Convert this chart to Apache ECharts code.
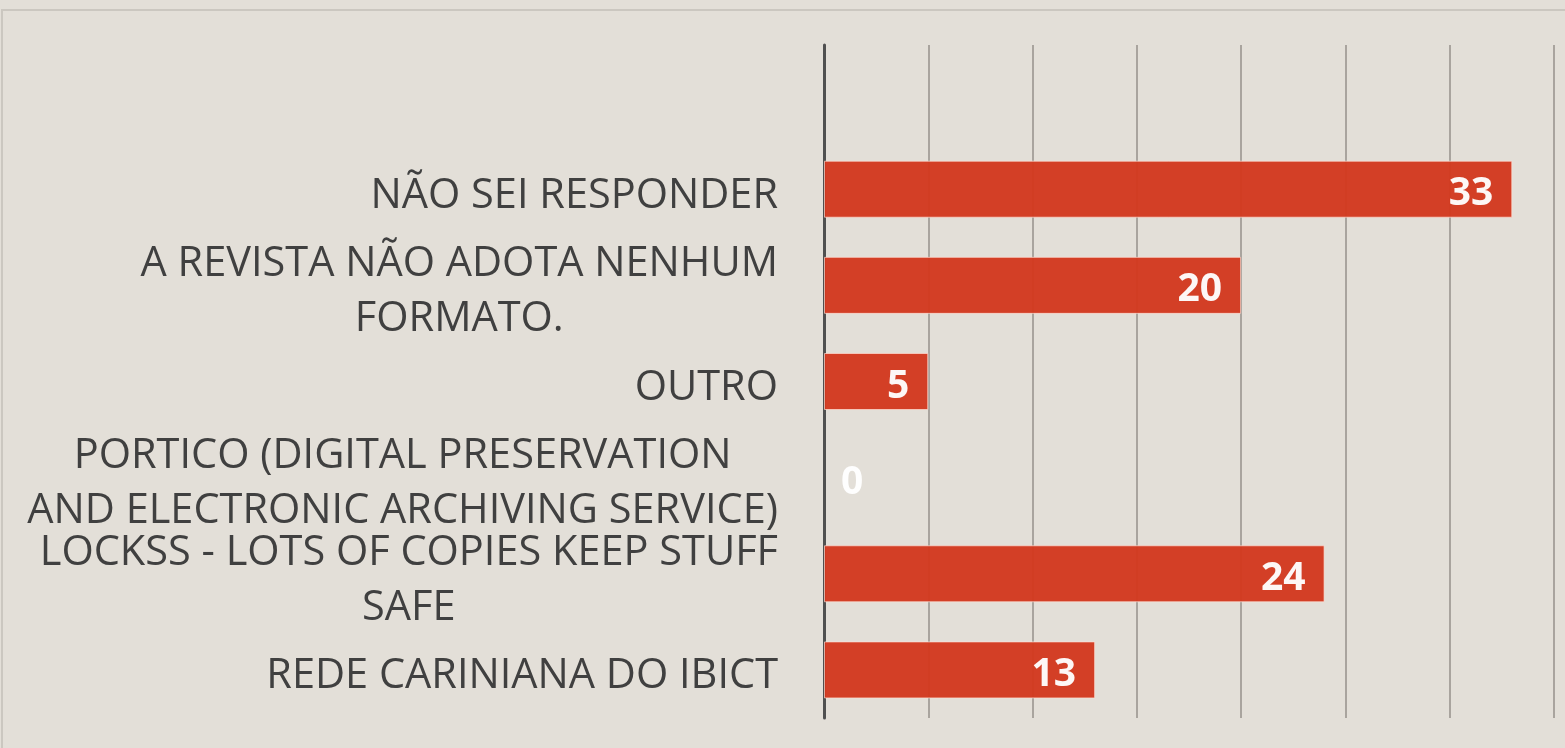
<!DOCTYPE html>
<html>
<head>
<meta charset="utf-8">
<script src="https://cdn.jsdelivr.net/npm/echarts@6/dist/echarts.min.js"></script>
<style>
  html, body { margin: 0; padding: 0; width: 1565px; height: 748px; background: #E3DFD8; overflow: hidden; }
  #frame { position: absolute; left: 1px; top: 9px; width: 1600px; height: 800px; border-top: 2px solid #CBC7C0; border-left: 2px solid #CBC7C0; }
  #chart { position: absolute; left: 0; top: 0; width: 1565px; height: 748px; }
</style>
</head>
<body>
<div id="frame"></div>
<div id="chart"></div>
<script>
// Categories, top to bottom
const categories = [
  'NÃO SEI RESPONDER',
  'A REVISTA NÃO ADOTA NENHUM\nFORMATO.',
  'OUTRO',
  'PORTICO (DIGITAL PRESERVATION\nAND ELECTRONIC ARCHIVING SERVICE)',
  'LOCKSS - LOTS OF COPIES KEEP STUFF\nSAFE',
  'REDE CARINIANA DO IBICT'
];
const values = [33, 20, 5, 0, 24, 13];
const xMax = 35;
const xInterval = 5;

// leading empty band at the top of the plot
const yCats = [''].concat(categories);
const seriesData = ['-'].concat(values.map(function (v) {
  if (v === 0) {
    return { value: v, itemStyle: { borderWidth: 0, color: 'rgba(0,0,0,0)' }, label: { position: 'right', distance: 17 } };
  }
  return v;
}));

const chart = echarts.init(document.getElementById('chart'));
chart.setOption({
  backgroundColor: 'transparent',
  animation: false,
  grid: { left: 824, right: 11, top: 45, bottom: 30, containLabel: false },
  xAxis: {
    type: 'value',
    min: 0,
    max: xMax,
    interval: xInterval,
    axisLabel: { show: false },
    axisLine: { show: false },
    axisTick: { show: false },
    splitLine: { show: true, lineStyle: { color: '#A9A49E', width: 2 } }
  },
  yAxis: {
    type: 'category',
    inverse: true,
    data: yCats,
    axisLine: { show: true, lineStyle: { color: '#505050', width: 3 } },
    axisTick: { show: false },
    axisLabel: {
      margin: 46,
      align: 'right',
      color: '#404040',
      fontFamily: 'Open Sans',
      fontSize: 41.5,
      lineHeight: 55,
      padding: [13, 0, 0, 0],
      formatter: function (val) {
        if (!val) return '';
        return val.split('\n').map(function (l) { return '{c|' + l + '}'; }).join('\n');
      },
      rich: {
        c: { align: 'center', color: '#404040', fontFamily: 'Open Sans', fontSize: 41.5, lineHeight: 55 }
      }
    }
  },
  series: [{
    type: 'bar',
    data: seriesData,
    barWidth: 57,
    itemStyle: {
      color: '#D2381E',
      opacity: 0.96,
      borderColor: 'rgba(255,225,215,0.7)',
      borderWidth: 1
    },
    label: {
      show: true,
      position: 'insideRight',
      distance: 19,
      offset: [0, 5],
      color: '#FFFFFF',
      fontFamily: 'Open Sans',
      fontWeight: 'bold',
      fontSize: 39
    }
  }]
});
</script>
</body>
</html>
